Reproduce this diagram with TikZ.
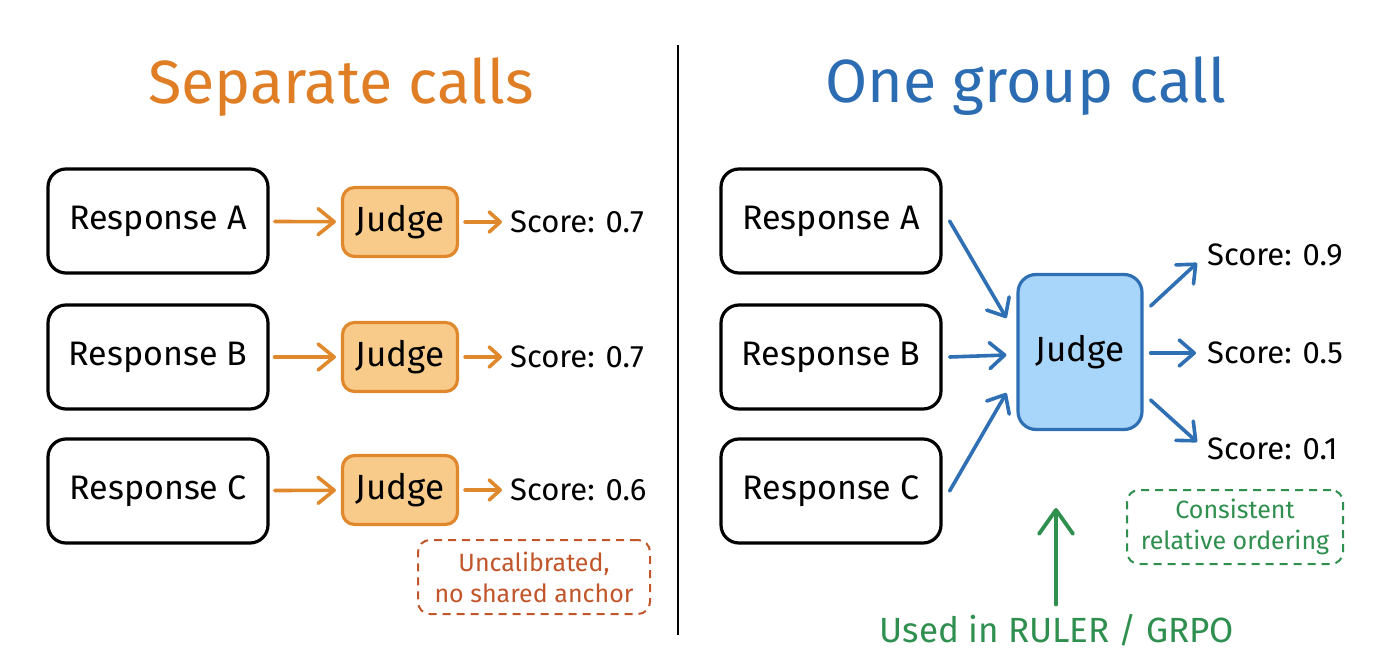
\documentclass[tikz,border=0pt]{standalone}
\usepackage{fontspec}
\setmainfont{Fira Sans}
\usetikzlibrary{arrows.meta}
\definecolor{orangeln}{HTML}{E0892C}
\definecolor{orangefill}{HTML}{F9CB8A}
\definecolor{orangetitle}{HTML}{E07E26}
\definecolor{rustnote}{HTML}{C0562A}
\definecolor{blueln}{HTML}{2F6FB3}
\definecolor{bluefill}{HTML}{A8D5FA}
\definecolor{bluetitle}{HTML}{2B6CB2}
\definecolor{greennote}{HTML}{2F8F4E}
\begin{document}
\begin{tikzpicture}[x=1pt,y=-1pt,
  title/.style={anchor=base, font=\fontsize{61}{66}\selectfont},
  resp/.style={draw=black, line width=3.2pt, rounded corners=18pt,
    minimum width=220pt, minimum height=104pt, font=\fontsize{34}{38}\selectfont},
  ojudge/.style={draw=orangeln, fill=orangefill, line width=3.2pt, rounded corners=12pt,
    minimum width=115pt, minimum height=69pt, font=\fontsize{35}{38}\selectfont},
  bjudge/.style={draw=blueln, fill=bluefill, line width=3.2pt, rounded corners=18pt,
    minimum width=124pt, minimum height=155pt, font=\fontsize{35}{38}\selectfont},
  score/.style={anchor=west, inner sep=0pt, font=\fontsize{31}{34}\selectfont},
  note/.style={dashed, dash pattern=on 8pt off 6pt, line width=2pt, rounded corners=12pt,
    align=center, font=\fontsize{25}{31}\selectfont},
  oarr/.style={draw=orangeln, line width=3.6pt, line cap=round,
    -{Straight Barb[length=16pt,width=26pt,round]}},
  osarr/.style={draw=orangeln, line width=3.6pt, line cap=round,
    -{Straight Barb[length=11pt,width=20pt,round]}},
  barr/.style={draw=blueln, line width=3.6pt, line cap=round,
    -{Straight Barb[length=15pt,width=26pt,round]}},
  garr/.style={draw=greennote, line width=3.8pt, line cap=round,
    -{Straight Barb[length=24pt,width=34pt,round]}}
]
\useasboundingbox[fill=white] (0,0) rectangle (1376,668);

% titles and divider
\node[title, text=orangetitle] (t1) at (341,104) {Separate calls};
\node[title, text=bluetitle] (t2) at (1026,103) {One group call};
\coordinate (dtop) at (678,45);
\coordinate (dbot) at (678,635);
\draw[line width=2.4pt] (dtop) -- (dbot);

% left: one judge call per response
\node[resp] (la) at (158,221) {Response A};
\node[resp] (lb) at (158,357) {Response B};
\node[resp] (lc) at (158,491) {Response C};
\node[ojudge] (ja) at (400,222) {Judge};
\node[ojudge] (jb) at (400,357) {Judge};
\node[ojudge] (jc) at (400,490) {Judge};
\node[score] (sa) at (510,222) {Score: 0.7};
\node[score] (sb) at (510,357) {Score: 0.7};
\node[score] (sc) at (510,490) {Score: 0.6};
\foreach \r/\j/\s in {la/ja/sa, lb/jb/sb, lc/jc/sc}{
  \draw[oarr, shorten <=5pt, shorten >=5pt] (\r) -- (\j);
  \draw[osarr, shorten <=6pt, shorten >=8pt] (\j) -- (\s);
}
\node[note, draw=rustnote, text=rustnote, minimum width=232pt, minimum height=74pt]
  (n1) at (534,577) {Uncalibrated,\\no shared anchor};

% right: all responses judged together
\node[resp] (ra) at (831,221) {Response A};
\node[resp] (rb) at (831,357) {Response B};
\node[resp] (rc) at (831,491) {Response C};
\node[bjudge] (bj) at (1080,352) {Judge};
\draw[barr] ([xshift=7pt]ra.east) -- ([xshift=-10pt,yshift=34pt]bj.west);
\draw[barr] ([xshift=7pt]rb.east) -- ([xshift=-10pt,yshift=-3pt]bj.west);
\draw[barr] ([xshift=7pt]rc.east) -- ([xshift=-10pt,yshift=-41pt]bj.west);
\node[score] (s9) at (1207,255) {Score: 0.9};
\node[score] (s5) at (1207,353) {Score: 0.5};
\node[score] (s1) at (1207,449) {Score: 0.1};
\draw[barr] ([xshift=7pt,yshift=46pt]bj.east) -- ([xshift=-10pt,yshift=-8pt]s9.west);
\draw[barr] ([xshift=7pt,yshift=-1pt]bj.east) -- ([xshift=-11pt]s5.west);
\draw[barr] ([xshift=7pt,yshift=-48pt]bj.east) -- ([xshift=-10pt,yshift=7pt]s1.west);
\node[note, draw=greennote, text=greennote, minimum width=216pt, minimum height=74pt]
  (n2) at (1235,527) {Consistent\\relative ordering};
\node[font=\fontsize{35}{38}\selectfont, text=greennote] (use) at (1057,630) {Used in RULER / GRPO};
\coordinate (gtip) at (1056,508);
\draw[garr, shorten <=6pt] (use.north -| gtip) -- (gtip);
\end{tikzpicture}
\end{document}
